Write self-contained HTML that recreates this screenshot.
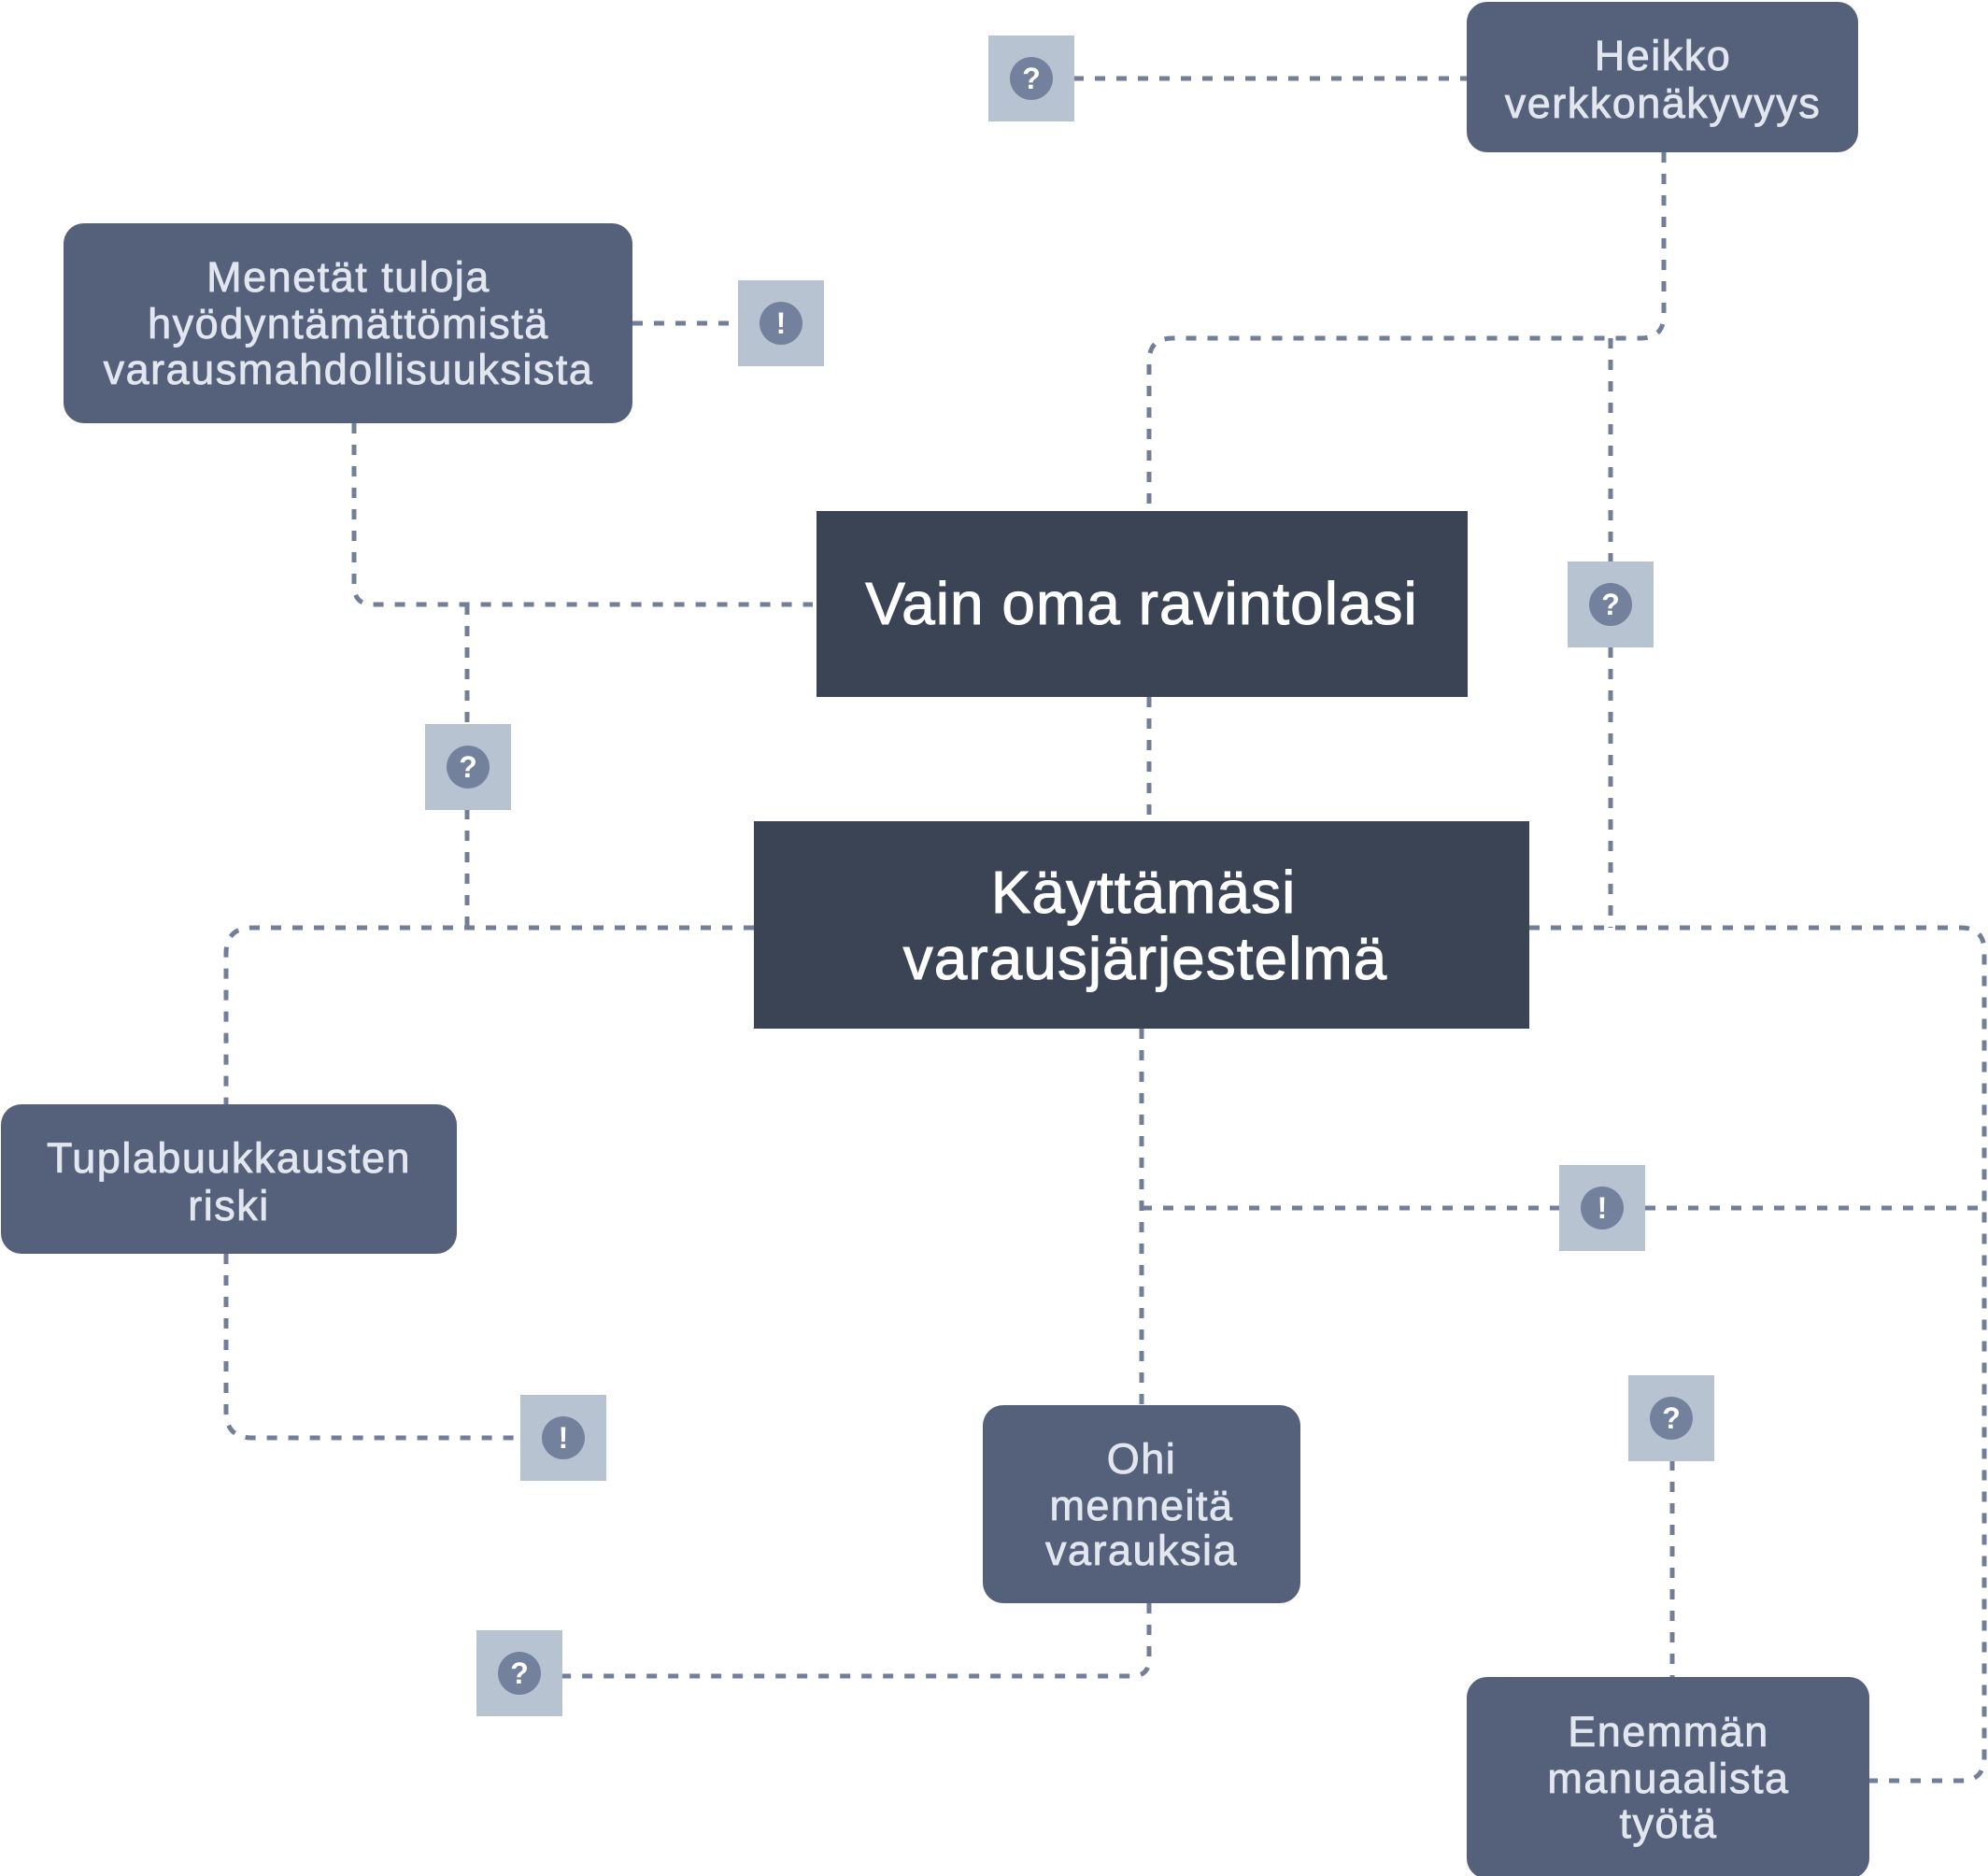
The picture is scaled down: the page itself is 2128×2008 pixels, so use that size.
<!DOCTYPE html>
<html>
<head>
<meta charset="utf-8">
<style>
  html, body { margin: 0; padding: 0; background: #ffffff; }
  body { width: 2128px; height: 2008px; overflow: hidden; }
  svg { display: block; }
  .mid { font-family: "Liberation Sans", sans-serif; font-size: 45px; fill: #e2e6ee; stroke: #e2e6ee; stroke-width: 0.8px; letter-spacing: 1.5px; }
  .big { font-family: "Liberation Sans", sans-serif; font-size: 64px; fill: #ffffff; stroke: #ffffff; stroke-width: 1px; letter-spacing: 1px; }
  .ic { font-family: "Liberation Sans", sans-serif; font-size: 32px; font-weight: bold; fill: #ffffff; }
</style>
</head>
<body>
<svg width="2128" height="2008" viewBox="0 0 2128 2008" xmlns="http://www.w3.org/2000/svg">
  <!-- connectors -->
  <g fill="none" stroke="#737f99" stroke-width="5" stroke-dasharray="11 12">
    <path d="M1149 84 H1570"/>
    <path d="M1781 163 V337 Q1781 362 1756 362 H1255 Q1230 362 1230 387 V548"/>
    <path d="M1724 362 V601"/>
    <path d="M1724 693 V993"/>
    <path d="M1230 746 V879"/>
    <path d="M677 346 H790"/>
    <path d="M379 453 V627 Q379 647 399 647 H870"/>
    <path d="M500 647 V775"/>
    <path d="M500 866 V993"/>
    <path d="M807 993 H270 Q242 993 242 1021 V1182"/>
    <path d="M1637 993 H2099 Q2124 993 2124 1018 V1881 Q2124 1906 2099 1906 H2001"/>
    <path d="M1222 1101 V1504"/>
    <path d="M1222 1293 H1669"/>
    <path d="M1761 1293 H2124"/>
    <path d="M242 1342 V1511 Q242 1539 270 1539 H557"/>
    <path d="M1230 1716 V1776 Q1230 1794 1212 1794 H601"/>
    <path d="M1790 1563 V1795"/>
  </g>

  <!-- medium nodes -->
  <g fill="#55617a">
    <rect x="1570" y="2" width="419" height="161" rx="22"/>
    <rect x="68" y="239" width="609" height="214" rx="22"/>
    <rect x="1" y="1182" width="488" height="160" rx="22"/>
    <rect x="1052" y="1504" width="340" height="212" rx="22"/>
    <rect x="1570" y="1795" width="431" height="216" rx="22"/>
  </g>

  <!-- dark nodes -->
  <g fill="#3b4455">
    <rect x="874" y="547" width="697" height="199"/>
    <rect x="807" y="879" width="830" height="222"/>
  </g>

  <!-- node text -->
  <g text-anchor="middle">
    <text class="mid" x="1780" y="75">Heikko</text>
    <text class="mid" x="1780" y="126">verkkonäkyvyys</text>

    <text class="mid" x="373" y="312">Menetät tuloja</text>
    <text class="mid" x="373" y="362">hyödyntämättömistä</text>
    <text class="mid" x="373" y="411">varausmahdollisuuksista</text>

    <text class="mid" x="245" y="1255">Tuplabuukkausten</text>
    <text class="mid" x="245" y="1306">riski</text>

    <text class="mid" x="1222" y="1577">Ohi</text>
    <text class="mid" x="1222" y="1627">menneitä</text>
    <text class="mid" x="1222" y="1675">varauksia</text>

    <text class="mid" x="1786" y="1869">Enemmän</text>
    <text class="mid" x="1786" y="1919">manuaalista</text>
    <text class="mid" x="1786" y="1967">työtä</text>

    <text class="big" x="1222" y="668">Vain oma ravintolasi</text>
    <text class="big" x="1224" y="977">Käyttämäsi</text>
    <text class="big" x="1226" y="1048">varausjärjestelmä</text>
  </g>

  <!-- icon boxes -->
  <g>
    <rect x="1058" y="38" width="92" height="92" fill="#b8c3d2"/>
    <circle cx="1104" cy="84" r="23" fill="#74819d"/>
    <text class="ic" x="1104" y="95" text-anchor="middle">?</text>

    <rect x="790" y="300" width="92" height="92" fill="#b8c3d2"/>
    <circle cx="836" cy="346" r="23" fill="#74819d"/>
    <text class="ic" x="836" y="357" text-anchor="middle">!</text>

    <rect x="1678" y="601" width="92" height="92" fill="#b8c3d2"/>
    <circle cx="1724" cy="647" r="23" fill="#74819d"/>
    <text class="ic" x="1724" y="658" text-anchor="middle">?</text>

    <rect x="455" y="775" width="92" height="92" fill="#b8c3d2"/>
    <circle cx="501" cy="821" r="23" fill="#74819d"/>
    <text class="ic" x="501" y="832" text-anchor="middle">?</text>

    <rect x="1669" y="1247" width="92" height="92" fill="#b8c3d2"/>
    <circle cx="1715" cy="1293" r="23" fill="#74819d"/>
    <text class="ic" x="1715" y="1304" text-anchor="middle">!</text>

    <rect x="1743" y="1472" width="92" height="92" fill="#b8c3d2"/>
    <circle cx="1789" cy="1518" r="23" fill="#74819d"/>
    <text class="ic" x="1789" y="1529" text-anchor="middle">?</text>

    <rect x="557" y="1493" width="92" height="92" fill="#b8c3d2"/>
    <circle cx="603" cy="1539" r="23" fill="#74819d"/>
    <text class="ic" x="603" y="1550" text-anchor="middle">!</text>

    <rect x="510" y="1745" width="92" height="92" fill="#b8c3d2"/>
    <circle cx="556" cy="1791" r="23" fill="#74819d"/>
    <text class="ic" x="556" y="1802" text-anchor="middle">?</text>
  </g>
</svg>
</body>
</html>
